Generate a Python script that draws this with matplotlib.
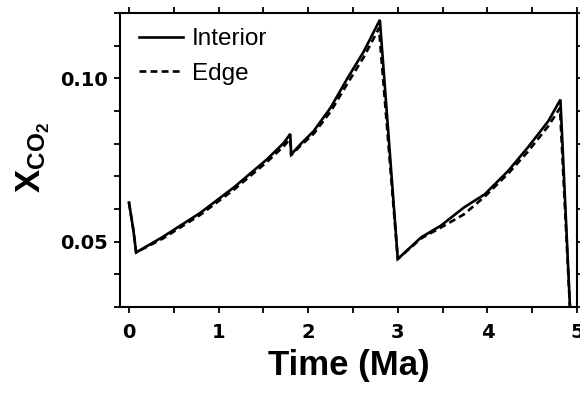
import matplotlib
matplotlib.use("Agg")
import matplotlib.pyplot as plt
from matplotlib.ticker import MultipleLocator

# Data
t_interior = [0.00, 0.05, 0.08, 0.38, 0.80, 1.17, 1.54, 1.73, 1.80, 1.81, 1.92, 2.06,
              2.25, 2.44, 2.62, 2.80, 3.00, 3.26, 3.48, 3.74, 3.97, 4.23, 4.45, 4.68,
              4.815, 4.93]
x_interior = [0.0620, 0.0534, 0.0467, 0.0515, 0.0589, 0.0666, 0.0752, 0.0803, 0.0830,
              0.0767, 0.0800, 0.0838, 0.0910, 0.1001, 0.1082, 0.1179, 0.0447, 0.0513,
              0.0549, 0.0605, 0.0645, 0.0716, 0.0788, 0.0869, 0.0935, 0.0250]

t_edge = [0.00, 0.05, 0.08, 0.38, 0.80, 1.17, 1.54, 1.73, 1.80, 1.81, 1.92, 2.06,
          2.25, 2.44, 2.62, 2.79, 3.00, 3.26, 3.48, 3.74, 3.97, 4.23, 4.45, 4.68,
          4.81, 4.93]
x_edge = [0.0620, 0.0534, 0.0467, 0.0510, 0.0583, 0.0659, 0.0744, 0.0793, 0.0815,
          0.0765, 0.0795, 0.0830, 0.0898, 0.0985, 0.1065, 0.1153, 0.0447, 0.0510,
          0.0543, 0.0584, 0.0638, 0.0708, 0.0775, 0.0854, 0.0909, 0.0250]

x_ticks = [0, 1, 2, 3, 4, 5]
y_ticks = [0.05, 0.10]
y_ticklabels = ["0.05", "0.10"]

plt.rcParams['mathtext.fontset'] = 'custom'
plt.rcParams['mathtext.bf'] = 'Liberation Sans:bold'
plt.rcParams['mathtext.rm'] = 'Liberation Sans:bold'
plt.rcParams['mathtext.it'] = 'Liberation Sans:bold'

W, H = 580, 394
fig = plt.figure(figsize=(W / 100, H / 100), dpi=100)
left, right, top, bottom = 120, 577, 13, 307
ax = fig.add_axes([left / W, 1 - bottom / H, (right - left) / W, (bottom - top) / H])

ax.plot(t_interior, x_interior, color='black', lw=1.9, solid_joinstyle='miter',
        label='Interior')
ax.plot(t_edge, x_edge, color='black', lw=1.9, ls=(0, (2.6, 1.6)), label='Edge')

ax.set_xlim(-0.1, 5.0)
ax.set_ylim(0.03, 0.12)
ax.set_xticks(x_ticks)
ax.set_yticks(y_ticks)
ax.set_yticklabels(y_ticklabels)
ax.xaxis.set_minor_locator(MultipleLocator(0.5))
ax.yaxis.set_minor_locator(MultipleLocator(0.01))

for s in ax.spines.values():
    s.set_linewidth(1.5)

ax.tick_params(which='both', direction='out', length=4.5, width=1.3,
               top=True, right=True, labeltop=False, labelright=False)
ax.tick_params(axis='x', which='major', pad=7)
ax.tick_params(axis='y', which='major', pad=4.5)
for lab in ax.get_xticklabels() + ax.get_yticklabels():
    lab.set_fontfamily('DejaVu Sans')
    lab.set_fontweight('bold')
    lab.set_fontsize(14)

ax.set_xlabel('Time (Ma)', fontfamily='Liberation Sans', fontweight='bold',
              fontsize=25, labelpad=5)
fig.text(33 / W, 1 - 158 / H, r'$\mathbf{X_{CO_2}}$', rotation=90,
         ha='center', va='center', fontsize=25)

leg = ax.legend(loc='upper left', bbox_to_anchor=(0.0416, 0.948), frameon=False,
                borderpad=0, borderaxespad=0, handlelength=1.8, handletextpad=0.37,
                labelspacing=0.52,
                prop={'family': 'Liberation Sans', 'size': 17.5})

fig.savefig('out.png', dpi=100)
